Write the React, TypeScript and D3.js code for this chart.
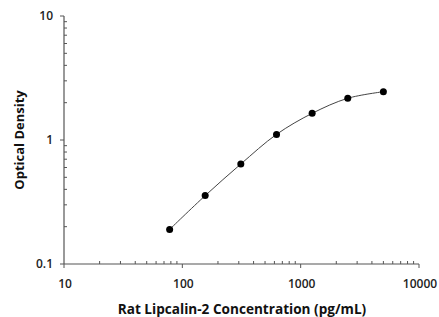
import React, { useEffect, useRef } from 'react';
import * as d3 from 'd3';

// standard curve points (pg/mL -> OD)
const concentrations = [78.1, 156, 312, 625, 1250, 2500, 5000];
const odValues = [0.19, 0.356, 0.64, 1.11, 1.64, 2.17, 2.45];

const xTickValues = [10, 100, 1000, 10000];
const xTickLabels = ['10', '100', '1000', '10000'];
const yTickValues = [0.1, 1, 10];
const yTickLabels = ['0.1', '1', '10'];

const xTitle = 'Rat Lipcalin-2 Concentration (pg/mL)';
const yTitle = 'Optical Density';

const App = () => {
  const ref = useRef<SVGSVGElement>(null);

  useEffect(() => {
    if (!ref.current) return;
    const width = 439, height = 317;
    const margin = { top: 16, right: 20, bottom: 53, left: 64 };

    const svg = d3.select(ref.current);
    svg.selectAll('*').remove();

    const x = d3.scaleLog().domain([10, 10000]).range([margin.left, width - margin.right]);
    const y = d3.scaleLog().domain([0.1, 10]).range([height - margin.bottom, margin.top]);

    const axisColor = '#555';
    const font = "'Open Sans', 'DejaVu Sans', sans-serif";

    // minor ticks (inside)
    const minors = (lo: number, hi: number) => {
      const out: number[] = [];
      for (let d = lo; d < hi; d *= 10) for (let k = 2; k <= 9; k++) out.push(d * k);
      return out;
    };

    const y0 = y(0.1), x0 = x(10);

    svg.append('g')
      .selectAll('line')
      .data(minors(10, 10000))
      .join('line')
      .attr('x1', d => x(d)).attr('x2', d => x(d))
      .attr('y1', y0).attr('y2', y0 - 3)
      .attr('stroke', axisColor).attr('stroke-width', 1);

    svg.append('g')
      .selectAll('line')
      .data(minors(0.1, 10))
      .join('line')
      .attr('x1', x0).attr('x2', x0 + 3)
      .attr('y1', d => y(d)).attr('y2', d => y(d))
      .attr('stroke', axisColor).attr('stroke-width', 1);

    // major ticks (outside)
    svg.append('g')
      .selectAll('line')
      .data(xTickValues)
      .join('line')
      .attr('x1', d => x(d)).attr('x2', d => x(d))
      .attr('y1', y0).attr('y2', y0 + 4)
      .attr('stroke', axisColor).attr('stroke-width', 1);

    svg.append('g')
      .selectAll('line')
      .data(yTickValues)
      .join('line')
      .attr('x1', x0).attr('x2', x0 - 4)
      .attr('y1', d => y(d)).attr('y2', d => y(d))
      .attr('stroke', axisColor).attr('stroke-width', 1);

    // axis lines
    svg.append('line')
      .attr('x1', x0).attr('x2', x(10000))
      .attr('y1', y0).attr('y2', y0)
      .attr('stroke', axisColor).attr('stroke-width', 1.2);
    svg.append('line')
      .attr('x1', x0).attr('x2', x0)
      .attr('y1', y(10)).attr('y2', y0)
      .attr('stroke', axisColor).attr('stroke-width', 1.2);

    // tick labels
    svg.append('g')
      .selectAll('text')
      .data(xTickValues)
      .join('text')
      .attr('x', d => x(d) + 1)
      .attr('y', y0 + 24)
      .attr('text-anchor', 'middle')
      .attr('font-family', font).attr('font-weight', 600).attr('font-size', 12)
      .attr('fill', '#222')
      .text((d, i) => xTickLabels[i]);

    svg.append('g')
      .selectAll('text')
      .data(yTickValues)
      .join('text')
      .attr('x', x0 - 11)
      .attr('y', d => y(d))
      .attr('dy', '0.35em')
      .attr('text-anchor', 'end')
      .attr('font-family', font).attr('font-weight', 600).attr('font-size', 12)
      .attr('fill', '#222')
      .text((d, i) => yTickLabels[i]);

    // axis titles
    svg.append('text')
      .attr('x', 242).attr('y', 314)
      .attr('text-anchor', 'middle')
      .attr('font-family', font).attr('font-weight', 700).attr('font-size', 13.6)
      .attr('fill', '#111')
      .text(xTitle);

    svg.append('text')
      .attr('transform', `translate(24, ${(y(10) + y0) / 2}) rotate(-90)`)
      .attr('text-anchor', 'middle')
      .attr('font-family', font).attr('font-weight', 700).attr('font-size', 13)
      .attr('fill', '#111')
      .text(yTitle);

    const data = concentrations.map((c, i) => ({ c, od: odValues[i] }));

    // fitted curve
    const line = d3.line<{ c: number; od: number }>()
      .x(d => x(d.c))
      .y(d => y(d.od))
      .curve(d3.curveCatmullRom.alpha(0.5));

    svg.append('path')
      .datum(data)
      .attr('d', line)
      .attr('fill', 'none')
      .attr('stroke', '#444')
      .attr('stroke-width', 1);

    svg.append('g')
      .selectAll('circle')
      .data(data)
      .join('circle')
      .attr('cx', d => x(d.c))
      .attr('cy', d => y(d.od))
      .attr('r', 3.5)
      .attr('fill', '#000');
  }, []);

  return (
    <svg
      ref={ref}
      width={439}
      height={317}
      style={{ position: 'absolute', left: 0, top: 0, background: '#fff' }}
    />
  );
};

export default App;
